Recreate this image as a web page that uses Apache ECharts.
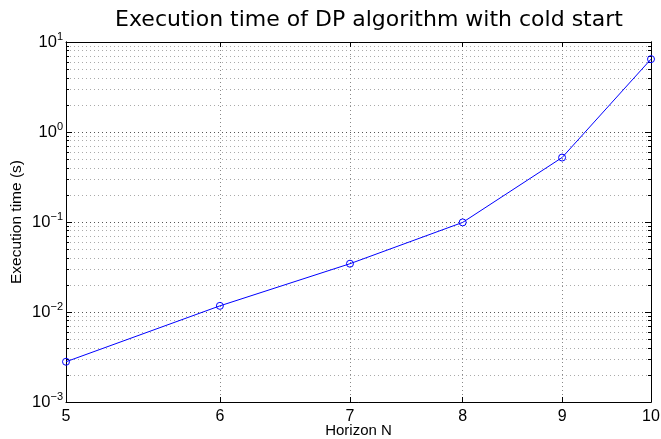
<!DOCTYPE html>
<html>
<head>
<meta charset="utf-8">
<script src="https://cdn.jsdelivr.net/npm/echarts@6/dist/echarts.min.js"></script>
<style>
  html, body { margin: 0; padding: 0; background: #fff; }
  #main { width: 661px; height: 439px; }
</style>
</head>
<body>
<div id="main"></div>
<script>
// data
var horizon = [5, 6, 7, 8, 9, 10];
var execTime = [0.0028, 0.0117, 0.0344, 0.099, 0.52, 6.45];

// tick positions
var xTicks = [5, 6, 7, 8, 9, 10];
var yDecades = [0.001, 0.01, 0.1, 1, 10];
var yMinor = [
  0.002, 0.003, 0.004, 0.005, 0.006, 0.007, 0.008, 0.009,
  0.02, 0.03, 0.04, 0.05, 0.06, 0.07, 0.08, 0.09,
  0.2, 0.3, 0.4, 0.5, 0.6, 0.7, 0.8, 0.9,
  2, 3, 4, 5, 6, 7, 8, 9
];

var FONT = '"Liberation Sans", Arial, sans-serif';

var chart = echarts.init(document.getElementById('main'), null, { renderer: 'canvas' });

function expLabel(value) {
  var e = Math.round(Math.log10(value));
  var s = e < 0 ? '\u2212' + (-e) : '' + e;
  return '{b|10}{e|' + s + '}';
}

// shared bits for the log axes
function xLog(extra) {
  return Object.assign({
    type: 'log',
    logBase: 10,
    min: 5,
    max: 10,
    axisLine: { show: true, onZero: false, lineStyle: { color: '#000', width: 1 } }
  }, extra);
}
function yLog(extra) {
  return Object.assign({
    type: 'log',
    logBase: 10,
    min: 0.001,
    max: 10,
    axisLine: { show: true, onZero: false, lineStyle: { color: '#000', width: 1 } }
  }, extra);
}

var option = {
  backgroundColor: '#fff',
  animation: false,
  title: {
    text: 'Execution time of DP algorithm with cold start',
    left: 364,
    top: 4,
    textAlign: 'center',
    textStyle: {
      fontFamily: '"DejaVu Sans", sans-serif',
      fontWeight: 'normal',
      fontSize: 22,
      color: '#000'
    }
  },
  grid: {
    left: 66,
    right: 10,
    top: 42,
    bottom: 37,
    containLabel: false,
    outerBoundsMode: 'none'
  },
  xAxis: [
    xLog({
      position: 'bottom',
      name: 'Horizon N',
      nameLocation: 'middle',
      nameGap: 21,
      nameMoveOverlap: false,
      nameTextStyle: { fontFamily: FONT, fontSize: 15, color: '#000' },
      axisTick: { show: true, inside: true, length: 5, customValues: xTicks, lineStyle: { color: '#000' } },
      axisLabel: {
        customValues: xTicks,
        margin: 7,
        fontFamily: FONT,
        fontSize: 16,
        color: '#000',
        showMinLabel: true,
        showMaxLabel: true
      },
      splitLine: { show: true, lineStyle: { color: '#888', type: [1, 3], width: 1 } }
    }),
    xLog({
      position: 'top',
      axisTick: { show: true, inside: true, length: 5, customValues: xTicks, lineStyle: { color: '#000' } },
      axisLabel: { show: false },
      splitLine: { show: false }
    })
  ],
  yAxis: [
    // minor ticks + minor grid (left)
    yLog({
      position: 'left',
      name: 'Execution time (s)',
      nameLocation: 'middle',
      nameGap: 41,
      nameMoveOverlap: false,
      nameTextStyle: { fontFamily: FONT, fontSize: 15.5, color: '#000' },
      axisTick: { show: true, inside: true, length: 3, customValues: yMinor, lineStyle: { color: '#000' } },
      axisLabel: { show: false },
      splitLine: { show: true, lineStyle: { color: '#aaa', type: [1, 3], width: 1 } }
    }),
    // major ticks, labels, major grid (left)
    yLog({
      position: 'left',
      axisTick: { show: true, inside: true, length: 6, customValues: yDecades, lineStyle: { color: '#000' } },
      axisLabel: {
        customValues: yDecades,
        margin: 3,
        formatter: expLabel,
        showMinLabel: true,
        showMaxLabel: true,
        rich: {
          b: { fontFamily: FONT, fontSize: 16.5, color: '#000' },
          e: { fontFamily: FONT, fontSize: 11, color: '#000', padding: [0, 0, 11, 0] }
        }
      },
      splitLine: { show: true, lineStyle: { color: '#555', type: [1, 3], width: 1 } }
    }),
    // right side box ticks
    yLog({
      position: 'right',
      axisTick: { show: true, inside: true, length: 3, customValues: yMinor, lineStyle: { color: '#000' } },
      axisLabel: { show: false },
      splitLine: { show: false }
    }),
    yLog({
      position: 'right',
      axisTick: { show: true, inside: true, length: 6, customValues: yDecades, lineStyle: { color: '#000' } },
      axisLabel: { show: false },
      splitLine: { show: false }
    })
  ],
  series: [
    {
      name: 'DP cold start',
      type: 'line',
      xAxisIndex: 0,
      yAxisIndex: 0,
      data: horizon.map(function (n, i) { return [n, execTime[i]]; }),
      symbol: 'circle',
      symbolSize: 7,
      showAllSymbol: true,
      lineStyle: { color: '#0000ff', width: 1 },
      itemStyle: { color: 'transparent', borderColor: '#0000ff', borderWidth: 1 },
      z: 10
    }
  ]
};

chart.setOption(option);
</script>
</body>
</html>
